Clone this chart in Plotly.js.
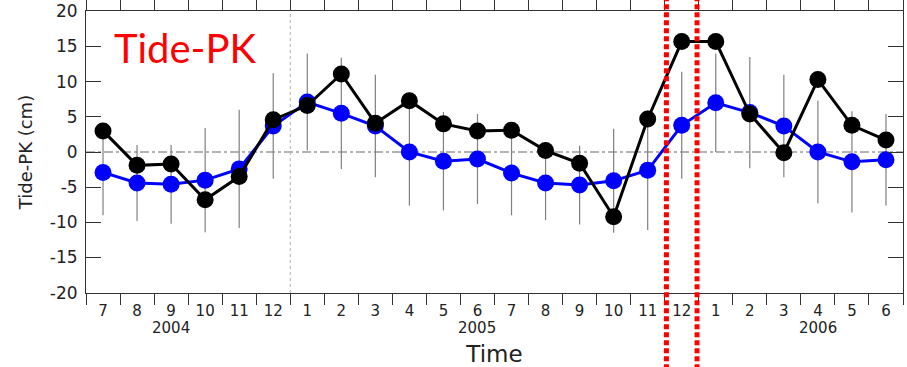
<!DOCTYPE html>
<html>
<head>
<meta charset="utf-8">
<script src="https://cdn.plot.ly/plotly-3.0.1.min.js"></script>
<style>html,body{margin:0;padding:0;background:#fff;}#chart{width:907px;height:367px;}</style>
</head>
<body>
<div id="chart"></div>
<script>
// ---- data ----
const monthLabels = ["7","8","9","10","11","12","1","2","3","4","5","6","7","8","9","10","11","12","1","2","3","4","5","6"];
const positions = [1,2,3,4,5,6,7,8,9,10,11,12,13,14,15,16,17,18,19,20,21,22,23,24];
const yearLabels = ["2004","2005","2006"];
const yearPositions = [3,12,22];
const observed = [3.0,-1.9,-1.7,-6.8,-3.5,4.6,6.6,11.1,4.1,7.3,4.0,3.0,3.1,0.2,-1.6,-9.2,4.7,15.7,15.7,5.4,-0.1,10.3,3.8,1.7];
const modelled = [-2.9,-4.4,-4.6,-4.0,-2.4,3.7,7.1,5.5,3.7,0.0,-1.3,-1.0,-3.0,-4.4,-4.7,-4.1,-2.6,3.8,7.0,5.6,3.7,0.0,-1.4,-1.1];
const spread = [6.1,5.4,5.6,7.4,8.4,7.5,6.9,7.9,7.3,7.6,7.0,6.4,6.0,5.3,5.6,7.4,8.5,7.6,7.0,7.9,7.3,7.3,7.2,6.5];
const yTickVals = [-20,-15,-10,-5,0,5,10,15,20];
const yTickText = ["-20","-15","-10","-5","0","5","10","15","20"];
const boundaryPositions = [0.5,1.5,2.5,3.5,4.5,5.5,6.5,7.5,8.5,9.5,10.5,11.5,12.5,13.5,14.5,15.5,16.5,17.5,18.5,19.5,20.5,21.5,22.5,23.5,24.5];
const yearBreak = [6.5];
const highlightLines = [17.55, 18.45];

const font = "'DejaVu Sans', sans-serif";
const titleFont = "Lato, 'Open Sans', sans-serif";

const traces = [
  {
    x: positions, y: modelled, type: 'scatter', mode: 'lines+markers',
    line: {color: '#0000ff', width: 3},
    marker: {color: '#0000ff', size: 17},
    error_y: {type: 'data', array: spread, visible: true, color: '#808080', thickness: 1.2, width: 0},
    hoverinfo: 'skip', showlegend: false
  },
  {
    x: positions, y: observed, type: 'scatter', mode: 'lines+markers',
    line: {color: '#000000', width: 3},
    marker: {color: '#000000', size: 17},
    hoverinfo: 'skip', showlegend: false
  }
];

const shapes = [
  {type: 'line', xref: 'paper', yref: 'y', x0: 0, x1: 1, y0: 0, y1: 0,
   line: {color: '#9a9a9a', width: 1.5, dash: 'dashdot'}, layer: 'below'},
  ...yearBreak.map(v => ({type: 'line', xref: 'x', yref: 'paper', x0: v, x1: v, y0: 0, y1: 1,
   line: {color: '#b0b0b0', width: 1, dash: 'dot'}, layer: 'below'})),
  ...highlightLines.map(v => ({type: 'line', xref: 'x', yref: 'paper', x0: v, x1: v, y0: -0.27, y1: 1.05,
   line: {color: '#ff0000', width: 5, dash: '5px,3px'}}))
];

const annotations = [
  {text: 'Tide-PK', xref: 'paper', yref: 'paper', x: 0.032, y: 0.87, xanchor: 'left', yanchor: 'middle',
   showarrow: false, font: {family: titleFont, size: 40, color: '#ff0000'}},
  ...yearLabels.map((t, i) => ({text: t, xref: 'x', yref: 'paper', x: yearPositions[i], y: -0.125,
   xanchor: 'center', yanchor: 'middle', showarrow: false, font: {family: font, size: 15, color: '#222'}}))
];

const layout = {
  width: 907, height: 367,
  margin: {l: 86, r: 4, t: 11, b: 74, pad: 0},
  paper_bgcolor: '#ffffff', plot_bgcolor: '#ffffff',
  font: {family: font, color: '#222'},
  xaxis: {
    range: [0.5, 24.5], tickmode: 'array', tickvals: positions, ticktext: monthLabels,
    ticks: '', showgrid: false, zeroline: false, showline: true, linecolor: '#333', linewidth: 1, mirror: true,
    tickfont: {family: font, size: 15, color: '#222'}, ticklabelstandoff: 4,
    title: {text: 'Time', font: {family: font, size: 23, color: '#222'}, standoff: 26}
  },
  xaxis2: {
    overlaying: 'x', anchor: 'y', range: [0.5, 24.5], tickmode: 'array', tickvals: boundaryPositions,
    ticks: 'outside', ticklen: 11, tickcolor: '#333', showticklabels: false, showgrid: false, zeroline: false,
    showline: true, linecolor: '#333', mirror: 'ticks'
  },
  yaxis: {
    range: [-20.05, 20.05], tickmode: 'array', tickvals: yTickVals, ticktext: yTickText,
    ticks: 'inside', ticklen: 15, tickcolor: '#333', showgrid: false, zeroline: false,
    showline: true, linecolor: '#333', linewidth: 1, mirror: 'ticks',
    tickfont: {family: font, size: 17, color: '#222'}, ticklabelstandoff: 4,
    title: {text: 'Tide-PK (cm)', font: {family: font, size: 18, color: '#222'}, standoff: 12}
  },
  shapes: shapes,
  annotations: annotations
};

// empty trace so the boundary-tick axis exists
traces.push({x: [], y: [], xaxis: 'x2', yaxis: 'y', type: 'scatter', showlegend: false, hoverinfo: 'skip'});

Plotly.newPlot('chart', traces, layout, {displayModeBar: false, staticPlot: true});
</script>
</body>
</html>
